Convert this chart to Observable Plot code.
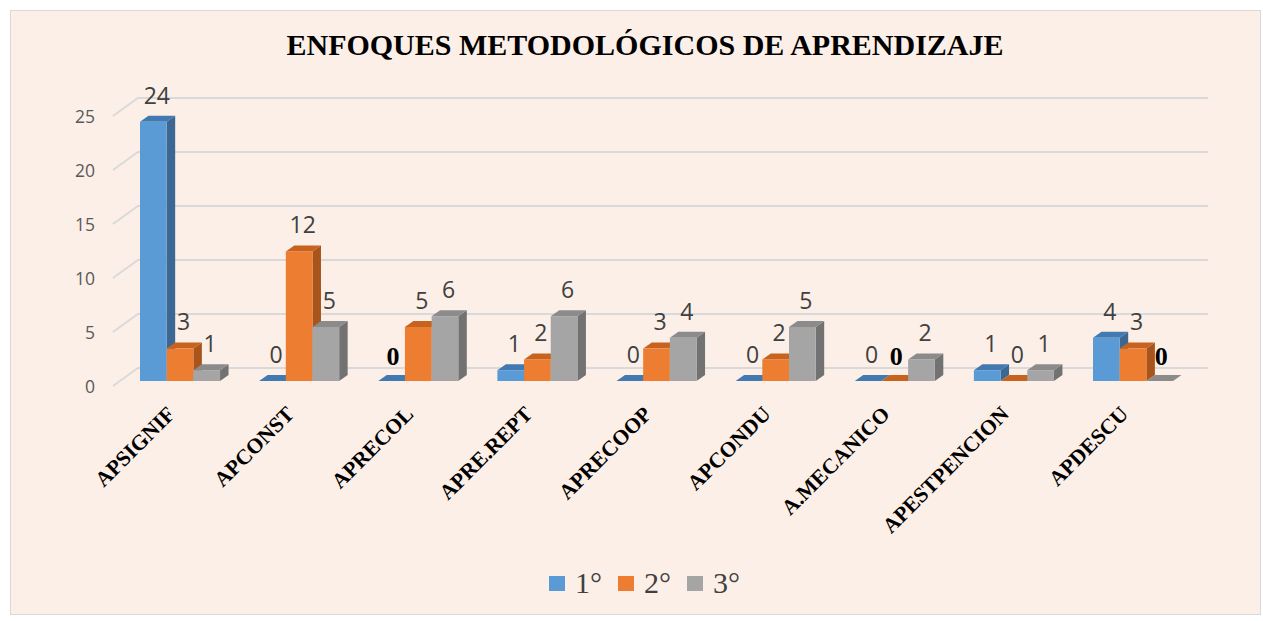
<!DOCTYPE html>
<html>
<head>
<meta charset="utf-8">
<script src="https://cdn.jsdelivr.net/npm/d3@7"></script>
<script src="https://cdn.jsdelivr.net/npm/@observablehq/plot@0.6"></script>
<style>
  html, body { margin: 0; padding: 0; background: #ffffff; }
  #wrap { position: relative; width: 1263px; height: 621px; overflow: hidden; }
  #frame { position: absolute; left: 10px; top: 10px; width: 1249px; height: 603px;
           border: 1.5px solid #d9d9d9; background: #fcefe7; }
  #title { position: absolute; left: 0; top: 28px; width: 1290px; text-align: center;
           font-family: "Liberation Serif", "Times New Roman", serif; font-weight: bold;
           font-size: 30px; line-height: 34px; color: #000; }
  #chart { position: absolute; left: 0; top: 70px; }
  #legend { position: absolute; left: 549px; top: 566px; display: flex; align-items: center;
            font-family: "Liberation Serif", "Times New Roman", serif; font-size: 30px; color: #404040; }
  .item { display: flex; align-items: center; margin-right: 16px; }
  .sw { width: 16px; height: 15px; margin-right: 10px; }
</style>
</head>
<body>
<div id="wrap">
  <div id="frame"></div>
  <div id="title"></div>
  <div id="chart"></div>
  <div id="legend"></div>
</div>
<script>
// ---- data ----
const chartTitle = "ENFOQUES METODOLÓGICOS DE APRENDIZAJE";
const categories = ["APSIGNIF", "APCONST", "APRECOL", "APRE.REPT", "APRECOOP", "APCONDU", "A.MECANICO", "APESTPENCION", "APDESCU"];
const series = ["1°", "2°", "3°"];
const values1 = [24, 0, 0, 1, 0, 0, 0, 1, 4];
const values2 = [3, 12, 5, 2, 3, 2, 0, 0, 3];
const values3 = [1, 5, 6, 6, 4, 5, 2, 1, 0];
const yTicks = [0, 5, 10, 15, 20, 25];

// ---- styling constants ----
const frontColors = ["#5b9bd5", "#ed7d31", "#a5a5a5"];
const topColors = ["#4279b0", "#c8621f", "#8b8b8b"];
const sideColors = ["#3b6792", "#a9541b", "#727272"];
const boldLabels = new Set(["APRECOL|1°", "A.MECANICO|2°", "APDESCU|3°"]);
const BW = 0.224;          // bar width in category units
const DX = 8.5, DY = -6;   // 3D depth in pixels
const sans = "'Open Sans', 'Noto Sans', sans-serif";
const serif = "'Liberation Serif', 'Times New Roman', serif";

// ---- build table ----
const seriesValues = [values1, values2, values3];
const rows = [];
categories.forEach((cat, ci) => {
  series.forEach((s, si) => {
    const x1 = ci + (si - 1.5) * BW;
    rows.push({cat, ci, series: s, si, value: seriesValues[si][ci], x1, x2: x1 + BW, xc: x1 + BW / 2,
               bold: boldLabels.has(cat + "|" + s)});
  });
});

document.getElementById("title").textContent = chartTitle;

// back wall grid + diagonal wall lines
function gridMark(index, scales, values, dimensions) {
  const g = d3.create("svg:g").attr("stroke", "#d9d9d9").attr("stroke-width", 1.8).attr("fill", "none");
  const xl = scales.x(-0.5), xr = scales.x(8.5);
  for (const t of yTicks) {
    const y = scales.y(t);
    g.append("path").attr("d", `M${xl - 7.5},${y + 5}L${xl + 17.5},${y - 13}L${xr + 15.5},${y - 13}`);
  }
  return g.node();
}

// 3D top and side faces of every bar
function depthMark(index, scales) {
  const g = d3.create("svg:g");
  const Y0 = scales.y(0);
  for (const r of rows) {
    const X1 = scales.x(r.x1), X2 = scales.x(r.x2), Y = scales.y(r.value);
    g.append("path")
      .attr("d", `M${X2},${Y}L${X2},${Y0}L${X2 + DX},${Y0 + DY}L${X2 + DX},${Y + DY}Z`)
      .attr("fill", sideColors[r.si]);
    g.append("path")
      .attr("d", `M${X1},${Y}L${X2},${Y}L${X2 + DX},${Y + DY}L${X1 + DX},${Y + DY}Z`)
      .attr("fill", topColors[r.si]);
  }
  return g.node();
}

const plot = Plot.plot({
  width: 1263,
  height: 480,
  marginLeft: 120.45,
  marginRight: 70.4,
  marginTop: 41,
  marginBottom: 169,
  style: {background: "transparent", overflow: "visible"},
  x: {type: "linear", domain: [-0.5, 8.5], axis: null},
  y: {domain: [0, 25], axis: null},
  color: {domain: series, range: frontColors},
  marks: [
    gridMark,
    depthMark,
    Plot.rect(rows, {x1: "x1", x2: "x2", y1: 0, y2: "value", fill: "series"}),
    Plot.text(yTicks, {x: -0.5, y: d => d, text: d => String(d), textAnchor: "end", dx: -26, dy: 6,
                       fontSize: 17.5, fill: "#595959", fontFamily: sans}),
    Plot.text(rows.filter(r => !r.bold), {x: "xc", y: "value", text: d => String(d.value), dx: 3, dy: -26,
                       fontSize: 23, fill: "#404040", fontFamily: sans}),
    Plot.text(rows.filter(r => r.bold), {x: "xc", y: "value", text: d => String(d.value), dx: 1, dy: -25,
                       fontSize: 26, fontWeight: "bold", fill: "#000", fontFamily: serif}),
    Plot.text(categories, {x: (d, i) => i, y: 0, text: d => d, rotate: -45, textAnchor: "end",
                       dx: -9, dy: 29, fontSize: 21.5, fontWeight: "bold", fill: "#000", fontFamily: serif})
  ]
});
document.getElementById("chart").appendChild(plot);

// legend
const legend = document.getElementById("legend");
series.forEach((s, i) => {
  const item = document.createElement("div");
  item.className = "item";
  const sw = document.createElement("div");
  sw.className = "sw";
  sw.style.background = frontColors[i];
  const label = document.createElement("span");
  label.textContent = s;
  item.appendChild(sw);
  item.appendChild(label);
  legend.appendChild(item);
});
</script>
</body>
</html>
